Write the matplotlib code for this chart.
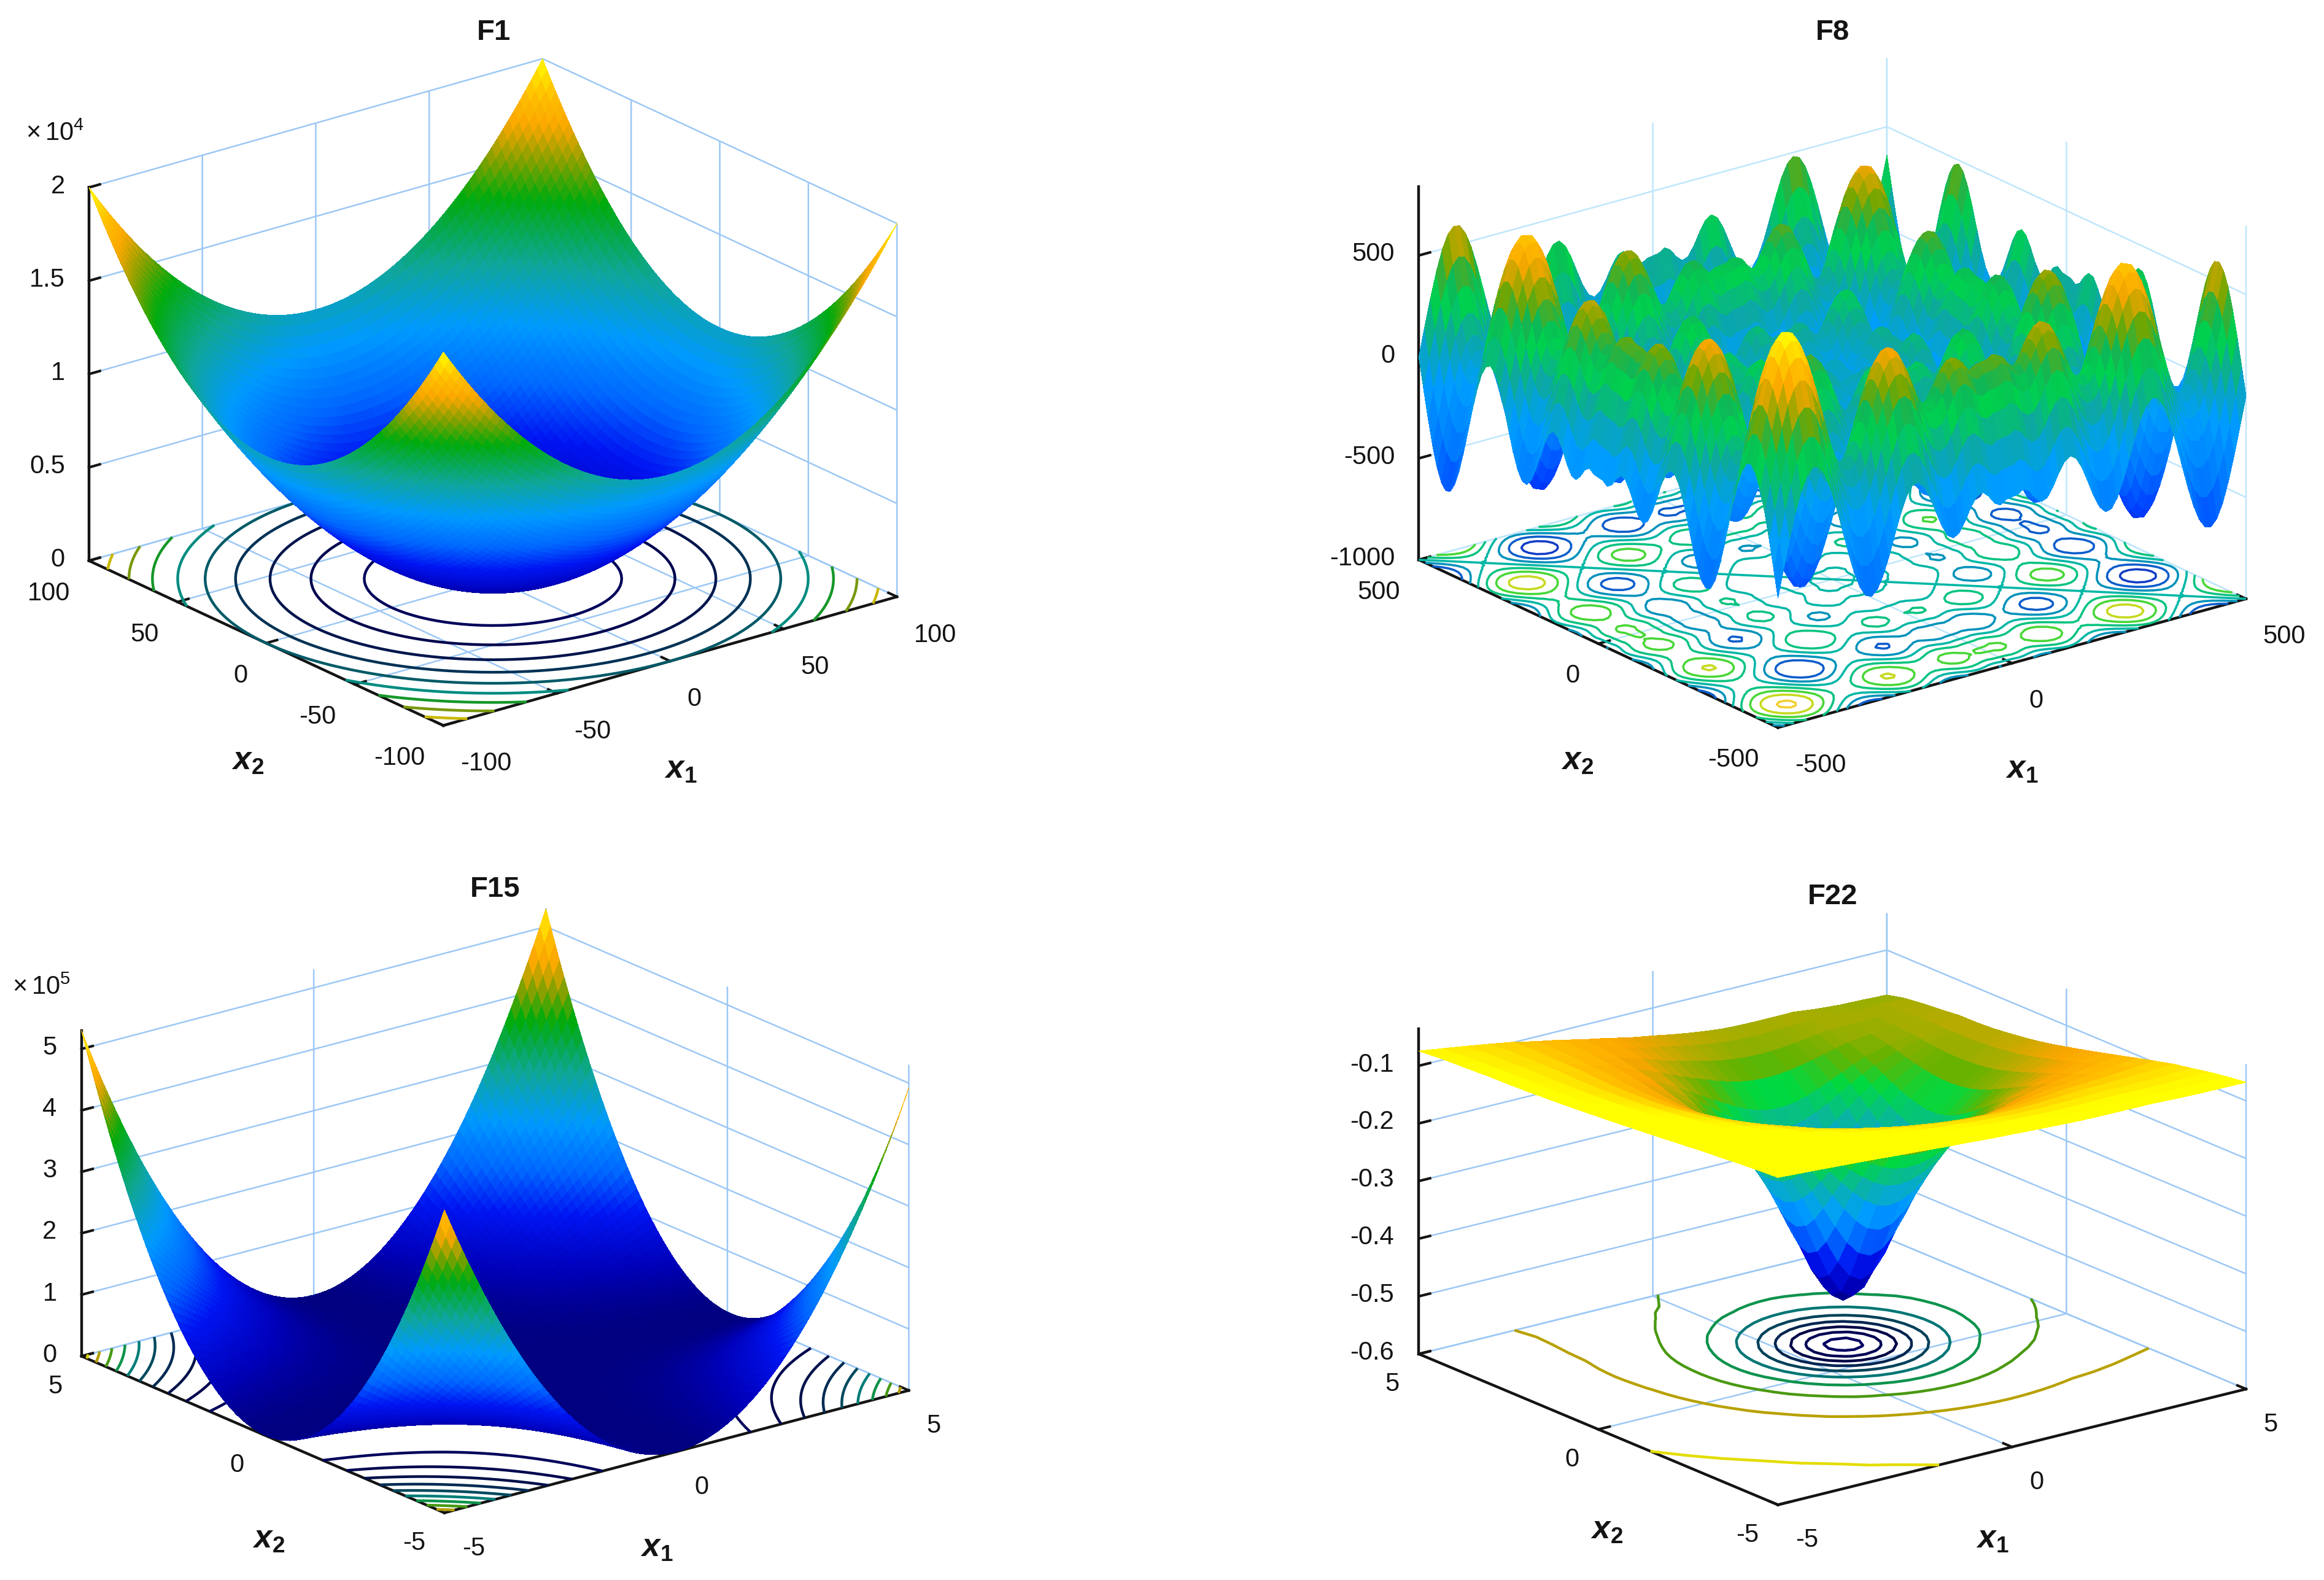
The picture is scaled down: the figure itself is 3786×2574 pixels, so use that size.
import numpy as np
import matplotlib
matplotlib.use('Agg')
import matplotlib.pyplot as plt
from matplotlib.colors import LinearSegmentedColormap

plt.rcParams['font.family'] = ['Liberation Sans', 'DejaVu Sans']
plt.rcParams['mathtext.fontset'] = 'custom'
plt.rcParams['mathtext.rm'] = 'Liberation Sans'
plt.rcParams['mathtext.bfit'] = 'Liberation Sans:bold:italic'
plt.rcParams['mathtext.bf'] = 'Liberation Sans:bold'

W, H = 3787, 2574
SCALE = W / 1568  # positions below were read on the 1568 wide picture

# F1 and F15: bowl profile from the edge to the middle, steps of 1/40 of the half width
bowl_half = [1, .9506, .9025, .8556, .81, .7656, .7225, .6806, .64, .6006, .5625, .5256, .49,
             .4556, .4225, .3906, .36, .3306, .3025, .2756, .25, .2256, .2025, .1806, .16,
             .1406, .1225, .1056, .09, .0756, .0625, .0506, .04, .0306, .0225, .0156, .01,
             .0056, .0025, .0006, 0]

# F8: edge profile for x = 12.5, 25 ... 500, the negative side mirrors with opposite sign
f8_half = [4.8, 24.0, 5.9, -35.4, -62.4, -51.9, -6.2, 54.4, 104.2, 122.9, 102.4, 47.1,
           -29.4, -107.7, -169.3, -200, -192.3, -146.3, -69.8, 25.8, 124.4, 211, 272.8,
           299.7, 287.5, 237.9, 155.3, 49.5, -68.2, -184.7, -287.3, -365, -410, -416.9,
           -384.6, -316, -215.5, -93, 42.4, 180.7]

# F15: edge height over x2 from -5 to 5 (units 1e5)
f15_x2_edge = [4.926, 4.679, 4.438, 4.203, 3.974, 3.752, 3.537, 3.327, 3.124, 2.928, 2.738,
               2.554, 2.377, 2.206, 2.041, 1.883, 1.731, 1.586, 1.447, 1.314, 1.188, 1.068,
               .954, .847, .746, .652, .564, .482, .407, .338, .276, .220, .170, .127, .090,
               .059, .035, .017, .006, .0013, .003, .011, .025, .045, .072, .105, .145, .191,
               .244, .303, .368, .440, .518, .602, .693, .790, .894, 1.004, 1.120, 1.243,
               1.372, 1.507, 1.649, 1.797, 1.952, 2.113, 2.281, 2.455, 2.635, 2.821, 3.014,
               3.213, 3.419, 3.631, 3.850, 4.075, 4.306, 4.544, 4.788, 5.038, 5.295]

# F22: grid, depth of the well by distance from its centre along x1 and x2, and the rim
f22_x = [-5, -4.5, -4, -3.5, -3, -2.5, -2, -1.5, -1, -.75, -.5, -.25, 0, .25, .5, .75, 1, 1.25,
         1.5, 1.75, 2, 2.25, 2.5, 2.75, 3, 3.5, 4, 4.5, 5]
f22_well = [
    [.0135, .0146, .0158, .0171, .0185, .0198, .0212, .0225, .0237, .0242, .0247, .0251, .0255, .0258, .0260, .0261, .0262],
    [.0146, .0159, .0174, .0190, .0206, .0224, .0241, .0258, .0274, .0282, .0288, .0294, .0299, .0303, .0306, .0308, .0308],
    [.0158, .0174, .0192, .0211, .0231, .0253, .0276, .0299, .0321, .0330, .0340, .0348, .0355, .0360, .0364, .0367, .0368],
    [.0171, .0190, .0211, .0234, .0260, .0288, .0318, .0348, .0378, .0392, .0405, .0416, .0426, .0435, .0441, .0444, .0445],
    [.0185, .0206, .0231, .0260, .0292, .0328, .0368, .0409, .0450, .0470, .0489, .0506, .0521, .0533, .0542, .0548, .0549],
    [.0198, .0224, .0253, .0288, .0328, .0375, .0426, .0483, .0542, .0571, .0599, .0625, .0647, .0666, .0680, .0689, .0692],
    [.0212, .0241, .0276, .0318, .0368, .0426, .0495, .0573, .0658, .0701, .0743, .0784, .0820, .0850, .0873, .0888, .0893],
    [.0225, .0258, .0299, .0348, .0409, .0483, .0573, .0680, .0803, .0869, .0935, .0999, .1058, .1110, .1149, .1175, .1183],
    [.0237, .0274, .0321, .0378, .0450, .0542, .0658, .0803, .0980, .1080, .1183, .1288, .1389, .1479, .1550, .1597, .1613],
    [.0242, .0282, .0330, .0392, .0470, .0571, .0701, .0869, .1080, .1201, .1331, .1465, .1597, .1717, .1814, .1878, .1900],
    [.0247, .0288, .0340, .0405, .0489, .0599, .0743, .0935, .1183, .1331, .1493, .1663, .1835, .1995, .2128, .2216, .2247],
    [.0251, .0294, .0348, .0416, .0506, .0625, .0784, .0999, .1288, .1465, .1663, .1878, .2100, .2312, .2492, .2614, .2658],
    [.0255, .0299, .0355, .0426, .0521, .0647, .0820, .1058, .1389, .1597, .1835, .2100, .2381, .2658, .2899, .3065, .3125],
    [.0258, .0303, .0360, .0435, .0533, .0666, .0850, .1110, .1479, .1717, .1995, .2312, .2658, .3008, .3320, .3540, .3620],
    [.0260, .0306, .0364, .0441, .0542, .0680, .0873, .1149, .1550, .1814, .2128, .2492, .2899, .3320, .3704, .3980, .4082],
    [.0261, .0308, .0367, .0444, .0548, .0689, .0888, .1175, .1597, .1878, .2216, .2614, .3065, .3540, .3980, .4301, .4420],
    [.0262, .0308, .0368, .0445, .0549, .0692, .0893, .1183, .1613, .1900, .2247, .2658, .3125, .3620, .4082, .4420, .4545],
]
f22_well_idx = [0, 1, 2, 3, 4, 5, 6, 7, 8, 9, 10, 11, 12, 13, 14, 15, 16, 15, 14, 13, 12, 11, 10,
                9, 8, 7, 6, 5, 4]
f22_back_x1 = [.032, .034, .036, .038, .040, .043, .045, .048, .050, .0515, .053, .054, .055,
               .0565, .058, .0595, .061, .0625, .064, .065, .066, .067, .068, .069, .070, .075,
               .079, .082, .085]
f22_back_x2 = [.58, .60, .63, .67, .70, .75, .80, .85, .90, .925, .95, .975, 1, 1.03, 1.06, 1.09,
               1.12, 1.15, 1.18, 1.215, 1.25, 1.28, 1.31, 1.335, 1.36, 1.45, 1.53, 1.62, 1.75]

f1_ticks = [-100, -50, 0, 50, 100]
f1_zticks = [0, .5, 1, 1.5, 2]
f1_zlabels = ['0', '0.5', '1', '1.5', '2']
f1_levels = [.2, .4, .6, .8, 1, 1.2, 1.4, 1.6, 1.8]
f8_ticks = [-500, 0, 500]
f8_zticks = [-1000, -500, 0, 500]
f8_levels = [-800, -600, -400, -200, 0, 200, 400, 600, 800]
f15_ticks = [-5, 0, 5]
f15_zticks = [0, 1, 2, 3, 4, 5]
f15_levels = [.5, 1, 1.5, 2, 2.5, 3, 3.5, 4, 4.5, 5]
f22_ticks = [-5, 0, 5]
f22_zticks = [-.6, -.5, -.4, -.3, -.2, -.1]
f22_zlabels = ['-0.6', '-0.5', '-0.4', '-0.3', '-0.2', '-0.1']
f22_levels = [-.5, -.45, -.4, -.35, -.3, -.25, -.2, -.15, -.1, -.05]

surf_cmap = LinearSegmentedColormap.from_list('surf', [
    (0.00, (0, 0, .50)), (.08, (0, 0, .72)), (.20, (0, .08, .95)), (.30, (0, .40, 1)),
    (.42, (0, .60, 1)), (.55, (.06, .65, .60)), (.69, (0, .67, .05)), (.77, (.50, .63, 0)),
    (.85, (.98, .65, 0)), (.92, (1, .75, 0)), (1.0, (1, 1, 0))])
f8_cmap = LinearSegmentedColormap.from_list('f8', [
    (0.00, (.05, .10, .85)), (.12, (0, .25, 1)), (.26, (0, .47, 1)), (.44, (0, .62, 1)),
    (.56, (.05, .66, .62)), (.65, (0, .82, .30)), (.70, (.05, .72, .35)), (.77, (.45, .65, 0)),
    (.86, (.98, .65, 0)), (.93, (1, .78, 0)), (1.0, (1, 1, 0))])
f22_cmap = LinearSegmentedColormap.from_list('f22', [
    (0.00, (0, 0, .50)), (.08, (0, 0, .72)), (.20, (0, .08, .95)), (.30, (0, .40, 1)),
    (.42, (0, .62, 1)), (.55, (.04, .70, .65)), (.66, (0, .85, .25)), (.73, (.40, .70, 0)),
    (.85, (.98, .65, 0)), (.92, (1, .75, 0)), (1.0, (1, 1, 0))])
line_cmap = LinearSegmentedColormap.from_list('lines', [
    (0.00, (0, 0, .40)), (.25, (0, .03, .28)), (.45, (0, .25, .35)), (.60, (0, .55, .50)),
    (.72, (.10, .60, .10)), (.85, (.70, .60, 0)), (1.0, (.95, .95, 0))])
f8_line_cmap = LinearSegmentedColormap.from_list('f8lines', [
    (0.00, (.10, .10, .75)), (.25, (.05, .35, .80)), (.45, (0, .70, .70)), (.60, (0, .75, .55)),
    (.75, (.30, .85, .20)), (.88, (.85, .85, .10)), (1.0, (.98, .80, .20))])

INK = '#141414'


def panel(fig, box, X, Y, Z, zlim, levels, ticks, zticks, zlabels, za, elev, az,
          cmap=surf_cmap, lines=line_cmap, clim=None, floor_lw=3.2, grid='#9cc8f5'):
    left, right, top, bottom = box
    aspect = np.array([1, 1, za])
    world = 1.8294640721620434 * 25 / 24 / np.linalg.norm(aspect)
    span = (np.cos(np.radians(az)) + np.sin(np.radians(az))) * world
    size = (right - left) * SCALE * 1.85 / span
    cx = (left + right) / 2 * SCALE
    cy = H - (top + bottom) / 2 * SCALE
    rect = [(cx - .5135 * size) / W, (cy - .5135 * size) / H, size / W, size / H]
    ax = fig.add_axes(rect, projection='3d', proj_type='ortho', computed_zorder=False)
    ax.patch.set_alpha(0)
    ax.view_init(elev=elev, azim=-90 - az)
    ax.set_box_aspect(aspect)
    vmin, vmax = clim if clim else (Z.min(), Z.max())
    ax.contour(X, Y, Z, levels=levels, zdir='z', offset=zlim[0], cmap=lines,
               vmin=Z.min(), vmax=Z.max(), linewidths=floor_lw, zorder=1)
    ax.plot_surface(X, Y, Z, cmap=cmap, vmin=vmin, vmax=vmax, rstride=1, cstride=1,
                    linewidth=0, antialiased=False, shade=False, zorder=2)
    ax.set_xlim(ticks[0], ticks[-1])
    ax.set_ylim(ticks[0], ticks[-1])
    ax.set_zlim(*zlim)
    ax.set_xticks(ticks)
    ax.set_xticklabels([str(t) for t in ticks], ha='left')
    ax.set_yticks(ticks)
    ax.set_yticklabels([str(t) for t in ticks], ha='right')
    ax.set_zticks(zticks)
    ax.set_zticklabels(zlabels, ha='right', va='center')
    for axis, pad in zip((ax.xaxis, ax.yaxis, ax.zaxis), (18, 14, 8)):
        axis.set_pane_color((1, 1, 1, 0))
        axis.pane.set_edgecolor(grid)
        axis.pane.set_linewidth(1.8)
        axis.line.set_color(INK)
        axis.line.set_linewidth(3.2)
        axis._axinfo['grid'].update(color=grid, linewidth=1.8)
        axis._axinfo['tick'].update(inward_factor=0, outward_factor=.3,
                                    linewidth={True: 3, False: 3}, color=INK)
        axis.set_tick_params(labelsize=30, pad=pad, colors=INK)
    return ax


def label(x, y, s, size=30, **kw):
    plt.gcf().text(x * SCALE / W, 1 - y * SCALE / H, s, fontsize=size, color=INK,
                   ha='center', va='center', **kw)


fig = plt.figure(figsize=(W / 100, H / 100), dpi=100, facecolor='white')
bowl = np.array(bowl_half[:-1] + bowl_half[::-1])

# F1
f1_x = np.linspace(-100, 100, 81)
X, Y = np.meshgrid(f1_x, f1_x)
panel(fig, (60, 605, 37, 492), X, Y, np.add.outer(bowl, bowl), (0, 2), f1_levels, f1_ticks,
      f1_zticks, f1_zlabels, .696, 21.3, 38)
label(333, 22, 'F1', 34, fontweight='bold')
label(37, 90, r'$\times\,10^{4}$', 30)
label(167, 513, r'$\mathbfit{x}_{\mathbf{2}}$', 38)
label(459, 519, r'$\mathbfit{x}_{\mathbf{1}}$', 38)

# F8
f8_h = np.array(f8_half)
f8_p = np.concatenate([-f8_h[::-1], [0], f8_h])
f8_x = np.linspace(-500, 500, 81)
X, Y = np.meshgrid(f8_x, f8_x)
panel(fig, (957, 1515, 38, 492), X, Y, np.add.outer(f8_p, f8_p), (-1000, 838), f8_levels, f8_ticks,
      f8_zticks, [str(v) for v in f8_zticks], .677, 21, 37.5, cmap=f8_cmap,
      lines=f8_line_cmap, floor_lw=2.6, grid='#bfe6fc')
label(1236, 22, 'F8', 34, fontweight='bold')
label(1064, 513, r'$\mathbfit{x}_{\mathbf{2}}$', 38)
label(1364, 519, r'$\mathbfit{x}_{\mathbf{1}}$', 38)

# F15
f15_x = np.linspace(-5, 5, 81)
X, Y = np.meshgrid(f15_x, f15_x)
panel(fig, (55, 613, 613, 1020), X, Y, np.outer(f15_x2_edge, bowl), (0, 5.3), f15_levels, f15_ticks,
      f15_zticks, [str(v) for v in f15_zticks], .587, 19.7, 38)
label(334, 600, 'F15', 34, fontweight='bold')
label(28, 666, r'$\times\,10^{5}$', 30)
label(181, 1038, r'$\mathbfit{x}_{\mathbf{2}}$', 38)
label(443, 1044, r'$\mathbfit{x}_{\mathbf{1}}$', 38)

# F22
X, Y = np.meshgrid(f22_x, f22_x)
f22_z = -(np.array(f22_well)[np.ix_(f22_well_idx, f22_well_idx)] + np.outer(f22_back_x2, f22_back_x1))
panel(fig, (957, 1515, 616, 1015), X, Y, f22_z, (-.6, -.036), f22_levels, f22_ticks,
      f22_zticks, f22_zlabels, .582, 18.8, 37.5, cmap=f22_cmap, clim=(f22_z.min(), -.07))
label(1236, 605, 'F22', 34, fontweight='bold')
label(1084, 1032, r'$\mathbfit{x}_{\mathbf{2}}$', 38)
label(1344, 1038, r'$\mathbfit{x}_{\mathbf{1}}$', 38)

fig.savefig('out.png', dpi=100)
